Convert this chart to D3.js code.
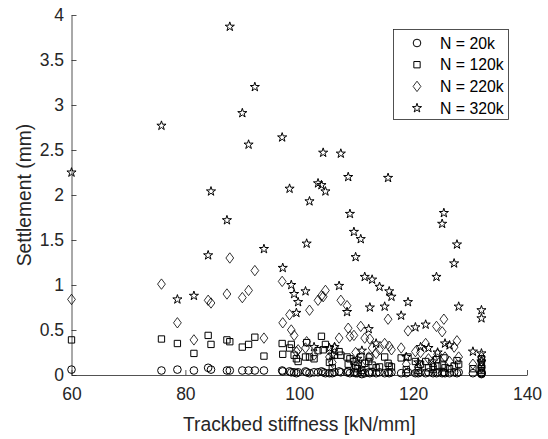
<!DOCTYPE html>
<html>
<head>
<meta charset="utf-8">
<script src="https://cdn.jsdelivr.net/npm/d3@7"></script>
<style>
  body { margin: 0; background: #fff; }
  #art { width: 548px; height: 439px; }
</style>
</head>
<body>
<div id="art"></div>
<script>
config = {
  "settings": { "width": 548, "height": 439 },
  "style": {
    "axisColour": "#262626",
    "markerColour": "#000",
    "font": "'Liberation Sans', Arial, Helvetica, sans-serif",
    "tickFont": 17.5,
    "labelFont": 19.3,
    "legendFont": 15.8
  }
}

// one entry per sample: stiffness and settlement after N load cycles
const stiffness = [
  60.0, 75.8, 78.6, 81.5, 84.0, 84.5, 87.3, 87.8, 90.0, 91.1, 92.2, 93.8,
  97.0, 97.1, 98.3, 98.6, 99.1, 99.5, 99.8, 101.1, 101.3, 101.8, 102.6, 103.3,
  103.9, 104.2, 104.6, 105.3, 105.8, 106.2, 107.0, 107.3, 108.4, 108.6, 108.9, 109.6,
  109.9, 110.2, 110.8, 111.0, 111.5, 112.2, 112.4, 112.8, 113.5, 114.1, 115.0, 115.6,
  115.8, 116.2, 117.9, 118.8, 119.1, 120.4, 120.9, 121.3, 122.2, 122.7, 123.5, 124.1,
  124.3, 125.1, 125.4, 125.6, 126.4, 127.2, 127.7, 128.0, 130.5, 132.0, 132.0, 132.0,
  132.0
];
const settle20k = [
  0.06, 0.05, 0.06, 0.05, 0.08, 0.06, 0.05, 0.05, 0.05, 0.05, 0.05, 0.05,
  0.05, 0.04, 0.04, 0.03, 0.03, 0.02, 0.03, 0.04, 0.03, 0.02, 0.03, 0.03,
  0.04, 0.03, 0.02, 0.02, 0.02, 0.03, 0.04, 0.03, 0.03, 0.04, 0.02, 0.03,
  0.02, 0.02, 0.03, 0.01, 0.02, 0.03, 0.02, 0.03, 0.02, 0.03, 0.02, 0.03,
  0.02, 0.03, 0.02, 0.02, 0.03, 0.02, 0.02, 0.03, 0.02, 0.03, 0.02, 0.02,
  0.03, 0.02, 0.03, 0.02, 0.02, 0.03, 0.02, 0.03, 0.02, 0.03, 0.02, 0.02,
  0.01
];
const settle120k = [
  0.39, 0.40, 0.35, 0.24, 0.44, 0.34, 0.39, 0.37, 0.31, 0.34, 0.42, 0.21,
  0.35, 0.23, 0.30, 0.34, 0.22, 0.18, 0.15, 0.20, 0.36, 0.20, 0.18, 0.27,
  0.43, 0.28, 0.34, 0.14, 0.08, 0.22, 0.26, 0.22, 0.20, 0.12, 0.18, 0.15,
  0.10, 0.07, 0.20, 0.05, 0.13, 0.15, 0.20, 0.11, 0.08, 0.09, 0.20, 0.13,
  0.10, 0.09, 0.19, 0.06, 0.20, 0.15, 0.05, 0.12, 0.15, 0.08, 0.06, 0.17,
  0.10, 0.11, 0.19, 0.08, 0.07, 0.10, 0.16, 0.12, 0.07, 0.18, 0.12, 0.07,
  0.05
];
const settle220k = [
  0.84, 1.01, 0.58, 0.39, 0.83, 0.80, 0.90, 1.30, 0.86, 0.94, 1.16, 0.41,
  1.04, 0.58, 0.67, 0.50, 0.44, 0.26, 0.28, 0.30, 0.37, 0.72, 0.22, 0.83,
  0.88, 0.87, 0.94, 0.20, 0.14, 0.30, 0.41, 0.83, 0.77, 0.52, 0.43, 0.44,
  0.25, 0.12, 0.54, 0.10, 0.41, 0.20, 0.40, 0.30, 0.24, 0.28, 0.35, 0.62,
  0.32, 0.28, 0.30, 0.12, 0.49, 0.26, 0.09, 0.25, 0.35, 0.18, 0.10, 0.54,
  0.23, 0.48, 0.62, 0.20, 0.15, 0.31, 0.38, 0.20, 0.12, 0.20, 0.15, 0.10,
  0.08
];
const settle320k = [
  2.25, 2.77, 0.84, 0.88, 1.33, 2.04, 1.72, 3.87, 2.91, 2.56, 3.20, 1.40,
  2.64, 1.19, 2.07, 1.00, 0.90, 0.69, 0.81, 0.93, 1.46, 1.93, 0.31, 2.13,
  2.11, 2.47, 2.04, 0.30, 0.22, 0.31, 0.99, 2.46, 0.70, 2.20, 1.79, 1.59,
  1.31, 0.18, 1.51, 0.27, 1.09, 0.51, 0.75, 1.06, 0.35, 0.98, 0.76, 2.19,
  0.93, 0.87, 0.66, 0.20, 0.81, 0.53, 0.14, 0.31, 0.56, 0.30, 0.15, 1.09,
  0.25, 1.68, 1.80, 0.35, 0.33, 1.24, 1.45, 0.76, 0.26, 0.72, 0.63, 0.24,
  0.15
];

const seriesNames = ["N = 20k", "N = 120k", "N = 220k", "N = 320k"];
const seriesValues = [settle20k, settle120k, settle220k, settle320k];
const xTicks = [60, 80, 100, 120, 140];
const yTicks = [0, 0.5, 1, 1.5, 2, 2.5, 3, 3.5, 4];

// marker shapes, drawn round (0,0)
const markerPath = [
  d3.symbol(d3.symbolCircle, 46)(),
  d3.symbol(d3.symbolSquare, 40)(),
  "M0,-5.2L3.9,0L0,5.2L-3.9,0Z",
  d3.symbol(d3.symbolStar, 26)()
];

function art() {
  const width = config.settings.width;
  const height = config.settings.height;
  const s = config.style;

  const svg = d3.select("#art")
    .append("svg")
    .attr("width", width)
    .attr("height", height)
    .style("font-family", s.font);

  const x = d3.scaleLinear().domain([60, 140]).range([71.5, 527]);
  const y = d3.scaleLinear().domain([0, 4]).range([375, 15]);

  // axes, ticks point inwards
  const xAxis = svg.append("g")
    .attr("transform", `translate(0,${y(0)})`)
    .call(d3.axisBottom(x).tickValues(xTicks).tickFormat(d3.format("d"))
      .tickSizeInner(-5).tickSizeOuter(0).tickPadding(13));

  const yAxis = svg.append("g")
    .attr("transform", `translate(${x(60)},0)`)
    .call(d3.axisLeft(y).tickValues(yTicks).tickFormat(d => String(d))
      .tickSizeInner(-5).tickSizeOuter(0).tickPadding(7.5));

  [xAxis, yAxis].forEach(a => {
    a.selectAll("path, line").attr("stroke", s.axisColour).attr("stroke-width", 0.8);
    a.selectAll("text").attr("fill", s.axisColour).style("font-size", s.tickFont + "px")
      .style("font-family", s.font);
  });

  svg.append("text")
    .attr("x", (x(60) + x(140)) / 2)
    .attr("y", 431)
    .attr("text-anchor", "middle")
    .attr("fill", s.axisColour)
    .style("font-size", s.labelFont + "px")
    .text("Trackbed stiffness [kN/mm]");

  svg.append("text")
    .attr("transform", `translate(31,${(y(0) + y(4)) / 2}) rotate(-90)`)
    .attr("text-anchor", "middle")
    .attr("fill", s.axisColour)
    .style("font-size", s.labelFont + "px")
    .text("Settlement (mm)");

  // scatter series
  seriesValues.forEach((vals, si) => {
    svg.append("g")
      .selectAll("path")
      .data(stiffness.map((k, i) => ({ k: k, v: vals[i] })))
      .enter()
      .append("path")
      .attr("d", markerPath[si])
      .attr("transform", d => `translate(${x(d.k)},${y(d.v)})`)
      .attr("fill", "none")
      .attr("stroke", s.markerColour)
      .attr("stroke-width", si === 2 ? 0.8 : 1);
  });

  // legend
  const legend = svg.append("g");
  legend.append("rect")
    .attr("x", 393.5).attr("y", 29.5)
    .attr("width", 115).attr("height", 90)
    .attr("fill", "#fff")
    .attr("stroke", s.axisColour)
    .attr("stroke-width", 0.8);

  const rows = legend.selectAll("g.row")
    .data(seriesNames)
    .enter()
    .append("g")
    .attr("class", "row")
    .attr("transform", (d, i) => `translate(0,${43 + i * 21.7})`);

  rows.append("path")
    .attr("d", (d, i) => markerPath[i])
    .attr("transform", "translate(417,0)")
    .attr("fill", "none")
    .attr("stroke", s.markerColour)
    .attr("stroke-width", (d, i) => i === 2 ? 0.8 : 1);

  rows.append("text")
    .attr("x", 440)
    .attr("dy", "0.36em")
    .attr("fill", "#000")
    .style("font-size", s.legendFont + "px")
    .text(d => d);
}

window.onload = function () {
  art();
};
</script>
</body>
</html>
